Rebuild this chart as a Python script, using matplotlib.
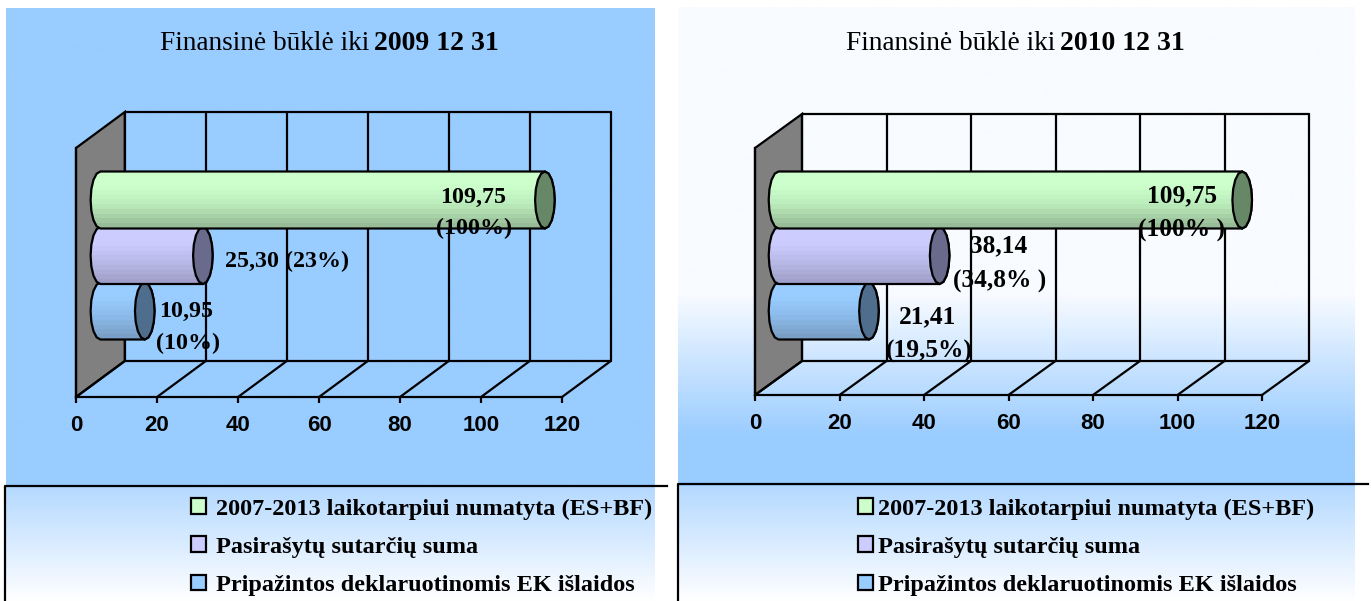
import numpy as np
import matplotlib
matplotlib.use("Agg")
import matplotlib.pyplot as plt
from matplotlib.path import Path
from matplotlib.patches import PathPatch, Polygon, Rectangle
from matplotlib.colors import LinearSegmentedColormap

W, H = 1371, 601
titles_plain = ["Finansinė būklė iki", "Finansinė būklė iki"]
titles_bold = ["2009 12 31", "2010 12 31"]
categories = ["Pripažintos deklaruotinomis EK išlaidos", "Pasirašytų sutarčių suma",
              "2007-2013 laikotarpiui numatyta (ES+BF)"]
values_2009 = [10.95, 25.30, 109.75]
values_2010 = [21.41, 38.14, 109.75]
ticks = [0, 20, 40, 60, 80, 100, 120]
labels_2009 = ["10,95", "(10%)", "25,30 (23%)", "109,75", "(100%)"]
labels_2010 = ["21,41", "(19,5%)", "38,14", "(34,8% )", "109,75", "(100% )"]

label_xy_2009 = [(186, 311), (188, 343), (287, 261), (473, 197), (474, 228)]
label_xy_2010 = [(928, 317), (929, 351), (999, 246), (1000, 281), (1182, 196), (1182, 230)]

top_cols = ["#99CCFF", "#CCCCFF", "#CCFFCC"]
mid_cols = ["#8DBCEB", "#BBBBEA", "#BBEBBB"]
bot_cols = ["#7A9FC6", "#A0A0CA", "#98BC98"]
cap_cols = ["#4F6D8C", "#6A6A8C", "#668866"]

plt.rcParams["font.family"] = ["Liberation Serif", "DejaVu Serif"]
fig = plt.figure(figsize=(W / 100, H / 100), dpi=100, facecolor="white")
bg = fig.add_axes([0, 0, 1, 1], zorder=0)
bg.set_xlim(0, W); bg.set_ylim(H, 0); bg.axis("off")
LW = 1.6


def vgrad(x0, x1, y0, y1, stops):
    cmap = LinearSegmentedColormap.from_list("g", stops)
    bg.imshow(np.linspace(0, 1, 256)[:, None], extent=(x0, x1, y1, y0), cmap=cmap,
              aspect="auto", zorder=1, vmin=0, vmax=1)


BLUE = "#99CCFF"
vgrad(6, 655, 8, 486, [BLUE, BLUE])
vgrad(678, 1355, 7, 486, [(0, "#F8FBFF"), (0.6, "#F8FBFF"), (0.9, BLUE), (1, BLUE)])
vgrad(6, 655, 486, 601, ["#B4D9FF", "#FFFFFF"])
vgrad(678, 1355, 486, 601, ["#B4D9FF", "#FFFFFF"])
bg.set_xlim(0, W); bg.set_ylim(H, 0)
for pts in ([(4.5, 601), (4.5, 486), (667, 486)], [(677.5, 601), (677.5, 484), (1368, 484)]):
    bg.plot(*zip(*pts), color="black", lw=LW, zorder=2)


def chart(x0, x1, y_front, y_top, dx, dy, values):
    ax = fig.add_axes([x0 / W, 1 - y_front / H, (x1 - x0) / W, (y_front - y_top) / H], zorder=1)
    ax.patch.set_alpha(0)
    ax.set_xlim(0, 120)
    ax.set_ylim((311 - y_front) / 55.5, (311 - y_top) / 55.5)
    sx = (x1 - x0) / 120
    sy = 55.5
    ddx, ddy = dx / sx, dy / sy
    y0, y1 = ax.get_ylim()
    lc = dict(color="black", lw=LW, solid_capstyle="round", clip_on=False, zorder=2)
    ax.add_patch(Polygon([(0, y0), (ddx, y0 + ddy), (ddx, y1 + ddy), (0, y1)], closed=True,
                         fc="#808080", ec="black", lw=LW, clip_on=False, zorder=1))
    for t in ticks:
        ax.plot([t + ddx, t + ddx], [y0 + ddy, y1 + ddy], **lc)
        ax.plot([t, t + ddx], [y0, y0 + ddy], **lc)
    ax.plot([ddx, 120 + ddx], [y1 + ddy] * 2, **lc)
    ax.plot([ddx, 120 + ddx], [y0 + ddy] * 2, **lc)
    rx = 9.8 / sx
    hh = 57 / 2 / sy
    for i, v in enumerate(values):
        xc0 = ddx / 2
        xc1 = v + ddx / 2
        th = np.linspace(np.pi / 2, 3 * np.pi / 2, 9)
        left = np.c_[xc0 + rx * np.cos(th), i + hh * np.sin(th)]
        th2 = np.linspace(-np.pi / 2, np.pi / 2, 9)
        right = np.c_[xc1 + rx * np.cos(th2), i + hh * np.sin(th2)]
        poly = np.r_[left, right, left[:1]]
        body = PathPatch(Path(poly), fc="none", ec="none")
        ax.add_patch(body)
        cmap = LinearSegmentedColormap.from_list(
            "c", [(0, top_cols[i]), (0.25, top_cols[i]), (0.6, mid_cols[i]), (1, bot_cols[i])])
        levels = np.floor(np.linspace(0, 1, 12) * 11)[:, None] / 11
        im = ax.imshow(levels, extent=(xc0 - rx, xc1 + rx, i - hh, i + hh), cmap=cmap,
                       vmin=0, vmax=1, aspect="auto", zorder=3 + i, interpolation="nearest")
        im.set_clip_path(body)
        ax.add_patch(Polygon(poly, closed=True, fc="none", ec="black", lw=LW,
                             zorder=3 + i + 0.1, clip_on=False))
        th3 = np.linspace(0, 2 * np.pi, 17)
        ax.add_patch(Polygon(np.c_[xc1 + rx * np.cos(th3), i + hh * np.sin(th3)], closed=True,
                             fc=cap_cols[i], ec="black", lw=LW, zorder=3 + i + 0.2, clip_on=False))
    ax.set_xlim(0, 120); ax.set_ylim(y0, y1)
    for s in ("top", "right"):
        ax.spines[s].set_visible(False)
    ax.spines["left"].set_linewidth(LW)
    ax.spines["bottom"].set_linewidth(LW)
    ax.spines["bottom"].set_zorder(2.5)
    ax.set_yticks([])
    ax.set_xticks(ticks)
    ax.tick_params(axis="x", length=4, width=LW, pad=9)
    for lab in ax.get_xticklabels():
        lab.set_fontfamily("Liberation Sans"); lab.set_fontweight("bold"); lab.set_fontsize(16)
    return ax


chart(76, 562, 397, 148, 48.8, 36, values_2009)
chart(755, 1262, 395, 148, 47, 34, values_2010)


def ptext(x, y, s, **kw):
    fig.text(x, y, s, transform=bg.transData, va="center", color="black", **kw)


ptext(369, 43, titles_plain[0], ha="right", fontsize=19.6)
ptext(374, 43, titles_bold[0], ha="left", fontsize=20, fontweight="bold")
ptext(1055, 43, titles_plain[1], ha="right", fontsize=19.6)
ptext(1060, 43, titles_bold[1], ha="left", fontsize=20, fontweight="bold")

for s, (x, y) in zip(labels_2009, label_xy_2009):
    ptext(x, y, s, ha="center", fontsize=17.3, fontweight="bold")
for s, (x, y) in zip(labels_2010, label_xy_2010):
    ptext(x, y, s, ha="center", fontsize=18.3, fontweight="bold")

for xa, fs, pad in ((184, 17.5, 0.4), (851, 17.5, 0.2)):
    handles = [Rectangle((0, 0), 1, 1, fc=top_cols[i], ec="black", lw=LW) for i in (2, 1, 0)]
    fig.legend(handles, [categories[i] for i in (2, 1, 0)], loc="upper left",
               bbox_to_anchor=(xa / W, 1 - 491 / H), frameon=False,
               prop=dict(family="Liberation Serif", weight="bold", size=fs),
               handlelength=0.62, handleheight=0.62, handletextpad=pad, labelspacing=0.69,
               borderpad=0.3, borderaxespad=0)

fig.savefig("out.png", dpi=100)
